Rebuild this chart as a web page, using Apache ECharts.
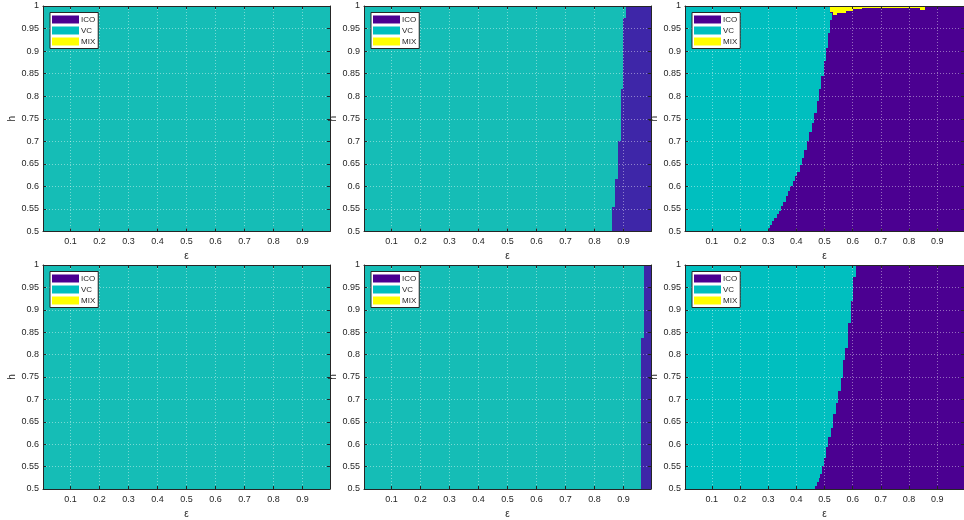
<!DOCTYPE html>
<html>
<head>
<meta charset="utf-8">
<script src="https://cdn.jsdelivr.net/npm/echarts@6/dist/echarts.min.js"></script>
<style>
  html, body { margin: 0; padding: 0; background: #ffffff; }
  #chart { width: 964px; height: 520px; }
</style>
</head>
<body>
<div id="chart"></div>
<script>
// Scanned parameter window: ε on x, h on y
const epsRange = [0.005, 0.995];
const hRange = [0.5, 1];
const epsTicks = [0.1, 0.2, 0.3, 0.4, 0.5, 0.6, 0.7, 0.8, 0.9];
const classNames = ['ICO', 'VC', 'MIX'];

// VC / ICO frontier per panel: lower h of each step and the ε where ICO starts
// (an ε of 1 means the whole row is VC)
const p1H = [0.5];
const p1Eps = [1];

const p2H = [0.500, 0.555, 0.617, 0.700, 0.815, 0.974];
const p2Eps = [0.862, 0.872, 0.881, 0.891, 0.899, 0.908];

const p3H = [0.500, 0.508, 0.515, 0.523, 0.530, 0.538, 0.546, 0.556, 0.566, 0.578,
             0.589, 0.600, 0.611, 0.622, 0.633, 0.648, 0.663, 0.681, 0.700, 0.720,
             0.741, 0.763, 0.789, 0.815, 0.845, 0.878, 0.907, 0.941, 0.970, 0.985];
const p3Eps = [0.300, 0.306, 0.314, 0.322, 0.330, 0.338, 0.346, 0.354, 0.362, 0.370,
               0.379, 0.387, 0.396, 0.404, 0.412, 0.421, 0.429, 0.438, 0.446, 0.455,
               0.463, 0.472, 0.480, 0.489, 0.497, 0.505, 0.513, 0.520, 0.527, 0.521];
// MIX cells along the top edge of panel 3: ε span and lowest h reached
const p3MixFrom = [0.521, 0.529, 0.546, 0.575, 0.601, 0.632, 0.839];
const p3MixTo   = [0.529, 0.546, 0.575, 0.601, 0.632, 0.839, 0.856];
const p3MixH    = [0.986, 0.980, 0.985, 0.990, 0.993, 0.996, 0.992];

const p4H = [0.5];
const p4Eps = [1];

const p5H = [0.500, 0.837];
const p5Eps = [0.960, 0.971];

const p6H = [0.500, 0.507, 0.515, 0.524, 0.533, 0.552, 0.570, 0.593, 0.615, 0.637,
             0.667, 0.693, 0.719, 0.748, 0.789, 0.815, 0.870, 0.919, 0.974];
const p6Eps = [0.468, 0.474, 0.479, 0.484, 0.491, 0.499, 0.506, 0.514, 0.522, 0.531,
               0.540, 0.548, 0.557, 0.565, 0.574, 0.582, 0.593, 0.602, 0.612];

// Colour sets: two-class panels use the parula end colours, three-class panels the legend colours
const parulaColors = { ICO: '#3e26a8', VC: '#15bdb6', MIX: '#f9fb0e' };
const classColors = { ICO: '#4b0091', VC: '#00bfbf', MIX: '#ffff00' };

const panels = [
  { h: p1H, eps: p1Eps, colors: parulaColors },
  { h: p2H, eps: p2Eps, colors: parulaColors },
  { h: p3H, eps: p3Eps, colors: classColors, mix: { from: p3MixFrom, to: p3MixTo, h: p3MixH } },
  { h: p4H, eps: p4Eps, colors: parulaColors },
  { h: p5H, eps: p5Eps, colors: parulaColors },
  { h: p6H, eps: p6Eps, colors: classColors }
];

// Plot frames: three columns, two rows
const colLeft = [43, 364, 685];
const plotWidth = 287;
const rowTop = [6, 265];
const rowHeight = [225.5, 225];

const ink = '#262626';
const fontFamily = '"Liberation Sans", Arial, Helvetica, sans-serif';

// Turn step lists into row rectangles [ε0, ε1, h0, h1]
function buildRows(hSteps, epsSteps) {
  const vc = [], ico = [];
  for (let i = 0; i < hSteps.length; i++) {
    const h0 = hSteps[i];
    const h1 = i + 1 < hSteps.length ? hSteps[i + 1] : hRange[1];
    const cut = Math.min(epsSteps[i], epsRange[1]);
    vc.push([epsRange[0], cut, h0, h1]);
    if (cut < epsRange[1]) ico.push([cut, epsRange[1], h0, h1]);
  }
  return { vc, ico };
}

function buildMix(mix) {
  const out = [];
  if (!mix) return out;
  for (let i = 0; i < mix.from.length; i++) {
    out.push([mix.from[i], mix.to[i], mix.h[i], hRange[1]]);
  }
  return out;
}

// Each cell is snapped to whole pixels so neighbouring rows meet without seams
function renderCell(params, api) {
  const a = api.coord([api.value(0), api.value(3)]);
  const b = api.coord([api.value(1), api.value(2)]);
  const x0 = Math.round(a[0]), y0 = Math.round(a[1]);
  const x1 = Math.round(b[0]), y1 = Math.round(b[1]);
  return {
    type: 'rect',
    shape: { x: x0, y: y0, width: x1 - x0, height: y1 - y0 },
    style: { fill: api.visual('color') }
  };
}

const grid = [], xAxis = [], yAxis = [], series = [], legend = [];

panels.forEach((p, k) => {
  const col = k % 3, row = Math.floor(k / 3);
  const left = colLeft[col], top = rowTop[row], height = rowHeight[row];
  grid.push({ left: left, top: top, width: plotWidth, height: height, containLabel: false });

  const gridLines = { show: true, lineStyle: { color: 'rgba(255,255,255,0.42)', type: [1, 2], width: 1 } };
  const tickIn = { show: true, inside: true, length: 3, lineStyle: { color: ink, width: 1 } };

  // bottom ε axis
  xAxis.push({
    type: 'value', gridIndex: k, position: 'bottom', z: 10,
    min: epsRange[0], max: epsRange[1],
    name: 'ε', nameLocation: 'middle', nameGap: 20,
    nameTextStyle: { fontSize: 10, color: ink, fontFamily: fontFamily },
    axisLine: { show: true, onZero: false, lineStyle: { color: ink, width: 1 } },
    axisTick: Object.assign({ customValues: epsTicks }, tickIn),
    axisLabel: { customValues: epsTicks, fontSize: 9, color: ink, margin: 6, fontFamily: fontFamily },
    splitLine: gridLines
  });
  // top frame
  xAxis.push({
    type: 'value', gridIndex: k, position: 'top', z: 10,
    min: epsRange[0], max: epsRange[1],
    axisLine: { show: true, onZero: false, lineStyle: { color: ink, width: 1 } },
    axisTick: Object.assign({ customValues: epsTicks }, tickIn),
    axisLabel: { show: false },
    splitLine: { show: false }
  });
  // left h axis
  yAxis.push({
    type: 'value', gridIndex: k, position: 'left', z: 10,
    min: hRange[0], max: hRange[1], interval: 0.05,
    name: 'h', nameLocation: 'middle', nameGap: 26,
    nameTextStyle: { fontSize: 10, color: ink, fontFamily: fontFamily },
    axisLine: { show: true, onZero: false, lineStyle: { color: ink, width: 1 } },
    axisTick: tickIn,
    axisLabel: { fontSize: 9, color: ink, margin: 4, fontFamily: fontFamily },
    splitLine: gridLines
  });
  // right frame
  yAxis.push({
    type: 'value', gridIndex: k, position: 'right', z: 10,
    min: hRange[0], max: hRange[1], interval: 0.05,
    axisLine: { show: true, onZero: false, lineStyle: { color: ink, width: 1 } },
    axisTick: tickIn,
    axisLabel: { show: false },
    splitLine: { show: false }
  });

  const rows = buildRows(p.h, p.eps);
  const data = { ICO: rows.ico, VC: rows.vc, MIX: buildMix(p.mix) };
  classNames.forEach((name, j) => {
    series.push({
      type: 'custom', name: name,
      xAxisIndex: 2 * k, yAxisIndex: 2 * k,
      coordinateSystem: 'cartesian2d',
      z: 2 + j,
      silent: true,
      animation: false,
      itemStyle: { color: p.colors[name] },
      encode: { x: [0, 1], y: [2, 3] },
      renderItem: renderCell,
      data: data[name]
    });
  });

  legend.push({
    z: 20, zlevel: 0,
    left: left + 7, top: top + 6.5,
    orient: 'vertical', icon: 'rect',
    itemWidth: 27, itemHeight: 8, itemGap: 3,
    padding: [3, 3, 3, 2],
    backgroundColor: '#ffffff',
    borderColor: ink, borderWidth: 1, borderRadius: 0,
    textStyle: { fontSize: 8, lineHeight: 8, color: ink, fontFamily: fontFamily, padding: [0, 0, 0, -3] },
    data: classNames.map(n => ({ name: n, itemStyle: { color: classColors[n] } }))
  });
});

const chart = echarts.init(document.getElementById('chart'), null, { renderer: 'canvas' });
chart.setOption({
  animation: false,
  backgroundColor: '#ffffff',
  grid: grid,
  xAxis: xAxis,
  yAxis: yAxis,
  legend: legend,
  series: series
});
</script>
</body>
</html>
